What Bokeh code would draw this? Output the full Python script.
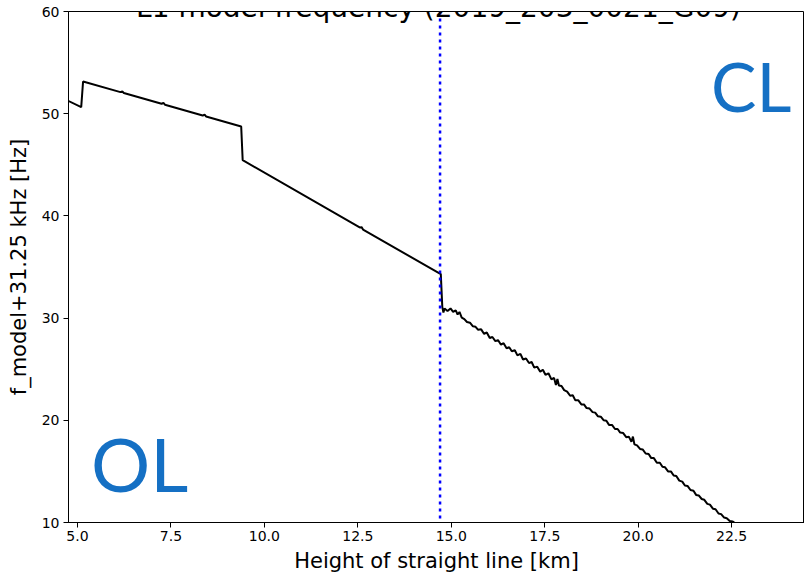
from bokeh.plotting import figure
from bokeh.models import Label, Span, FixedTicker, PrintfTickFormatter, Range1d
from bokeh.embed import file_html
from bokeh.resources import INLINE

# ---- data ----
title_text = "L1 model frequency (2019_203_0021_G09)"
x_label = "Height of straight line [km]"
y_label = "f_model+31.25 kHz [Hz]"

x_ticks = [5.0, 7.5, 10.0, 12.5, 15.0, 17.5, 20.0, 22.5]
y_ticks = [10, 20, 30, 40, 50, 60]

# open-loop part (piecewise straight with small steps)
height_ol = [4.70, 5.10, 5.15, 6.15, 6.20, 6.24, 7.25, 7.30, 7.34, 8.35, 8.40, 8.44,
             9.38, 9.42, 12.55, 12.60, 12.64, 14.72, 14.76, 14.79]
freq_ol = [51.35, 50.65, 53.15, 52.11, 52.18, 52.03, 50.97, 51.05, 50.88, 49.82, 49.92, 49.73,
           48.75, 45.45, 38.87, 38.90, 38.66, 34.30, 31.10, 30.55]

# closed-loop part (noisy decline)
height_cl = [14.82, 14.90, 14.98, 15.05, 15.12, 15.17, 15.22, 15.28, 15.35, 15.42,
             15.50, 15.58, 15.65, 15.72, 15.80, 15.88, 15.95, 16.03, 16.10, 16.18,
             16.25, 16.33, 16.40, 16.48, 16.55, 16.62, 16.70, 16.77, 16.85, 16.92,
             17.00, 17.08, 17.15, 17.22, 17.30, 17.38, 17.45, 17.52, 17.60, 17.68,
             17.75, 17.80, 17.84, 17.88, 17.95, 18.02, 18.10, 18.18, 18.25, 18.32,
             18.40, 18.48, 18.55, 18.62, 18.70, 18.78, 18.85, 18.92, 19.00, 19.08,
             19.15, 19.22, 19.30, 19.38, 19.45, 19.52, 19.60, 19.68, 19.75, 19.82,
             19.86, 19.90, 19.97, 20.05, 20.12, 20.20, 20.28, 20.35, 20.42, 20.50,
             20.58, 20.65, 20.72, 20.80, 20.88, 20.95, 21.02, 21.10, 21.18, 21.25,
             21.32, 21.40, 21.48, 21.55, 21.62, 21.70, 21.77, 21.85, 21.92, 22.00,
             22.07, 22.15, 22.22, 22.30, 22.37, 22.45, 22.52, 22.57]
freq_cl = [30.95, 30.70, 30.95, 30.62, 30.75, 30.35, 30.60, 30.05, 29.90, 29.62,
           29.55, 29.20, 29.15, 28.85, 28.90, 28.45, 28.60, 28.05, 28.15, 27.75,
           27.85, 27.40, 27.55, 27.05, 27.15, 26.75, 26.85, 26.35, 26.50, 25.95,
           26.05, 25.60, 25.70, 25.15, 25.25, 24.75, 24.95, 24.45, 24.60, 24.00,
           24.15, 23.45, 24.05, 23.40, 23.35, 22.95, 22.80, 22.40, 22.45, 21.95,
           21.95, 21.55, 21.55, 21.20, 21.15, 20.80, 20.75, 20.40, 20.35, 20.00,
           19.95, 19.55, 19.55, 19.15, 19.15, 18.80, 18.75, 18.35, 18.40, 17.90,
           18.40, 17.65, 17.55, 17.20, 17.15, 16.75, 16.70, 16.30, 16.30, 15.85,
           15.85, 15.45, 15.40, 15.00, 14.98, 14.60, 14.55, 14.10, 14.00, 13.62,
           13.58, 13.18, 13.10, 12.70, 12.65, 12.30, 12.22, 11.82, 11.75, 11.35,
           11.30, 10.88, 10.82, 10.48, 10.42, 10.15, 10.10, 10.00]

boundary_km = 14.70

height = height_ol + height_cl
freq = freq_ol + freq_cl

FONT = "DejaVu Sans"

p = figure(width=804, height=578, output_backend="svg", toolbar_location=None,
           x_range=Range1d(4.76, 24.45), y_range=Range1d(10, 60), title=None,
           min_border_left=68, min_border_right=0, min_border_top=11, min_border_bottom=56)
p.background_fill_color = "white"
p.border_fill_color = "white"
p.outline_line_color = "black"
p.outline_line_width = 1
p.xgrid.visible = False
p.ygrid.visible = False

p.line(height, freq, line_color="black", line_width=2)

p.add_layout(Span(location=boundary_km, dimension="height", line_color="#0000ff",
                  line_width=2.5, line_dash="3 4"))

for ax in (p.xaxis[0], p.yaxis[0]):
    ax.axis_line_color = "black"
    ax.axis_line_width = 1
    ax.major_tick_out = 5
    ax.major_tick_in = 0
    ax.major_tick_line_width = 1
    ax.minor_tick_out = 0
    ax.minor_tick_in = 0
    ax.major_label_text_font = FONT
    ax.major_label_text_font_size = "14px"
    ax.major_label_text_color = "black"
    ax.axis_label_text_font = FONT
    ax.axis_label_text_font_size = "21px"
    ax.axis_label_text_font_style = "normal"
    ax.axis_label_text_color = "black"

p.xaxis[0].ticker = FixedTicker(ticks=x_ticks)
p.xaxis[0].formatter = PrintfTickFormatter(format="%.1f")
p.xaxis[0].axis_label = x_label
p.xaxis[0].major_label_standoff = 3
p.xaxis[0].axis_label_standoff = 5

p.yaxis[0].ticker = FixedTicker(ticks=y_ticks)
p.yaxis[0].axis_label = y_label
p.yaxis[0].major_label_standoff = 4
p.yaxis[0].axis_label_standoff = 8

# title, mostly cut off above the window as in the reference
p.add_layout(Label(x=14.66, y=60.37, text=title_text, text_font=FONT,
                   text_font_size="28px", text_align="center",
                   text_baseline="alphabetic", text_color="black"))

# hand-written annotations
p.add_layout(Label(x=5.36, y=15.8, text="OL", text_font="Lato",
                   text_font_size="74px", text_color="#1570c4", text_baseline="alphabetic"))
p.add_layout(Label(x=21.95, y=52.8, text="CL", text_font="Lato",
                   text_font_size="68px", text_color="#1570c4", text_baseline="alphabetic"))

open("out.html", "w").write(file_html(p, INLINE))
